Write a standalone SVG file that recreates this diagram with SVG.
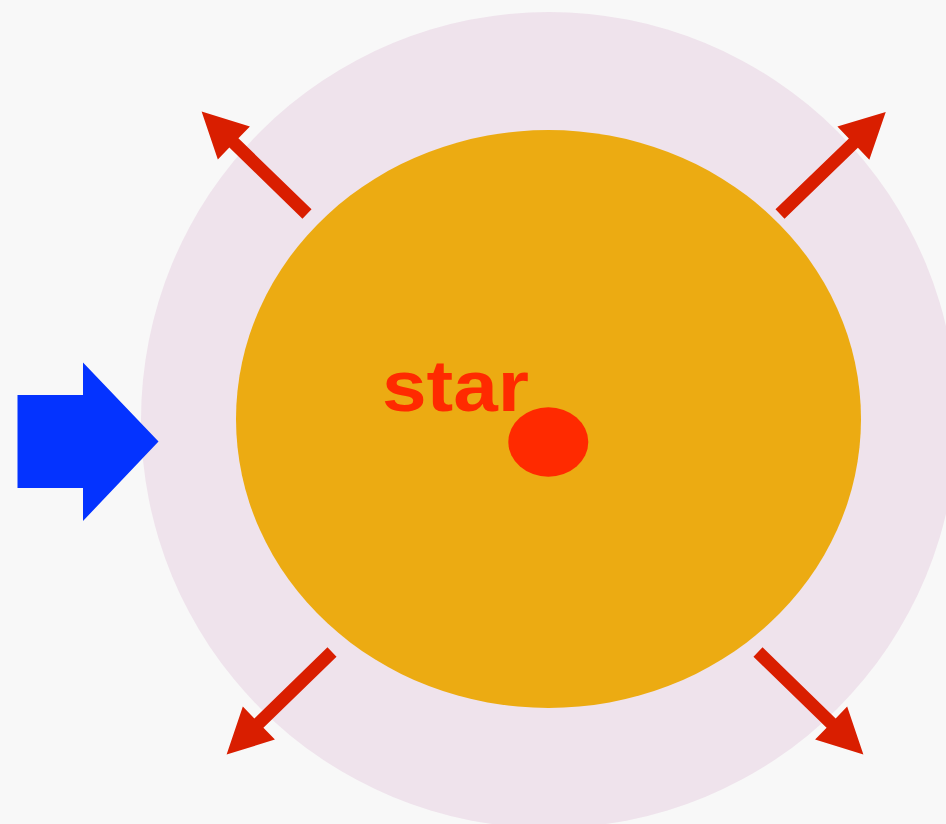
<svg xmlns="http://www.w3.org/2000/svg" width="946" height="824" viewBox="0 0 946 824">
<defs>
<style>
.arr{fill:#D91E00}
.lbl{font-family:"Liberation Sans","DejaVu Sans",sans-serif;font-weight:bold;font-size:72px;fill:#FF2A00}
</style>
<path id="ra" d="M0,-6.5 L102,-6.5 L102,-23 L147,0 L102,23 L102,6.5 L0,6.5 Z"/>
</defs>
<rect width="946" height="824" fill="#F8F8F8"/>
<g id="halo"><circle cx="549" cy="420" r="408" fill="#EFE3EC"/></g>
<g id="body"><ellipse cx="548.5" cy="419" rx="312.5" ry="289" fill="#ECAB12"/></g>
<g id="core"><ellipse cx="548.3" cy="442" rx="40" ry="34.7" fill="#FF2A00"/></g>
<g id="label"><text class="lbl" x="382" y="411" textLength="147" lengthAdjust="spacingAndGlyphs">star</text></g>
<g id="connectors">
<use href="#ra" class="arr" transform="translate(307,214) rotate(-135.8)"/>
<use href="#ra" class="arr" transform="translate(780,214) rotate(-44)"/>
<use href="#ra" class="arr" transform="translate(332,652) rotate(135.8)"/>
<use href="#ra" class="arr" transform="translate(758,652) rotate(44.2)"/>
</g>
<g id="input"><path d="M17.5,395 L83,395 L83,362.5 L158.5,441.5 L83,521 L83,488 L17.5,488 Z" fill="#0433FF"/></g>
</svg>
